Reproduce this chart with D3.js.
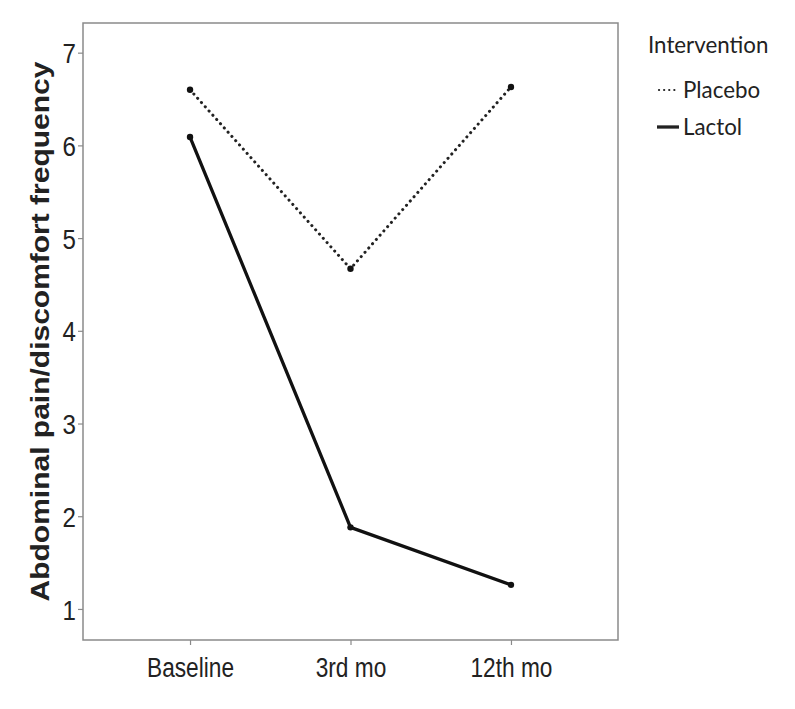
<!DOCTYPE html>
<html>
<head>
<meta charset="utf-8">
<script src="https://cdn.jsdelivr.net/npm/d3@7"></script>
<style>
  body { margin: 0; background: #fff; }
  svg { display: block; }
</style>
</head>
<body>
<div id="chart"></div>
<script>
// timepoints on the x axis
const timepoints = ["Baseline", "3rd mo", "12th mo"];
// mean frequency per group
const placebo = [6.60, 4.67, 6.63];
const lactol = [6.09, 1.88, 1.26];
const yTicks = [1, 2, 3, 4, 5, 6, 7];
const groups = ["Placebo", "Lactol"];

const width = 795, height = 709;
const margin = { left: 83, right: 177, top: 23, bottom: 69 };
const squeeze = 0.86;  // the reference text is a bit condensed

const svg = d3.select("#chart").append("svg")
    .attr("width", width)
    .attr("height", height);

const x = d3.scalePoint()
    .domain(timepoints)
    .range([margin.left, width - margin.right])
    .padding(0.667);

const y = d3.scaleLinear()
    .domain([0.665, 7.32])
    .range([height - margin.bottom, margin.top]);

// squeeze text horizontally
function condense(sel, k) {
    sel.each(function() {
        const len = this.getComputedTextLength();
        d3.select(this)
            .attr("textLength", len * k)
            .attr("lengthAdjust", "spacingAndGlyphs");
    });
}

// frame
svg.append("rect")
    .attr("x", margin.left)
    .attr("y", margin.top)
    .attr("width", width - margin.left - margin.right)
    .attr("height", height - margin.top - margin.bottom)
    .attr("fill", "none")
    .attr("stroke", "#8a8a8a")
    .attr("stroke-width", 1.5);

// y axis
const yAxis = svg.append("g")
    .attr("transform", `translate(${margin.left},0)`)
    .attr("font-family", "Liberation Sans, Arial, sans-serif")
    .call(d3.axisLeft(y).tickValues(yTicks).tickFormat(d3.format("d")).tickSize(5).tickPadding(2));
yAxis.attr("font-family", "Liberation Sans, Arial, sans-serif").attr("font-size", 28);
yAxis.select(".domain").remove();
yAxis.selectAll("line").attr("stroke", "#8a8a8a").attr("stroke-width", 1.2);
yAxis.selectAll("text").attr("fill", "#222").attr("dy", "0.36em").call(condense, squeeze);

// x axis
const xAxis = svg.append("g")
    .attr("transform", `translate(0,${height - margin.bottom})`)
    .call(d3.axisBottom(x).tickSize(5).tickPadding(13));
xAxis.attr("font-family", "Liberation Sans, Arial, sans-serif").attr("font-size", 27);
xAxis.select(".domain").remove();
xAxis.selectAll("line").attr("stroke", "#8a8a8a").attr("stroke-width", 1.2);
xAxis.selectAll("text").attr("fill", "#222").call(condense, 0.84);

// y axis title
svg.append("text")
    .attr("transform", `translate(49,${(margin.top + height - margin.bottom) / 2}) rotate(-90) scale(1,${squeeze})`)
    .attr("text-anchor", "middle")
    .attr("font-family", "Liberation Sans, Arial, sans-serif")
    .attr("font-weight", "bold")
    .attr("font-size", 30)
    .attr("fill", "#222")
    .text("Abdominal pain/discomfort frequency");

const line = d3.line()
    .x((d, i) => x(timepoints[i]))
    .y(d => y(d));

// placebo dotted line
svg.append("path")
    .datum(placebo)
    .attr("d", line)
    .attr("fill", "none")
    .attr("stroke", "#222")
    .attr("stroke-width", 3)
    .attr("stroke-linecap", "round")
    .attr("stroke-dasharray", "0.1,5.6");

// lactol solid line
svg.append("path")
    .datum(lactol)
    .attr("d", line)
    .attr("fill", "none")
    .attr("stroke", "#111")
    .attr("stroke-width", 3.3);

// markers
[placebo, lactol].forEach(series => {
    svg.append("g")
        .selectAll("circle")
        .data(series)
        .enter().append("circle")
        .attr("cx", (d, i) => x(timepoints[i]))
        .attr("cy", d => y(d))
        .attr("r", 3.2)
        .attr("fill", "#111");
});

// legend
const legend = svg.append("g")
    .attr("font-family", "Lato, 'Open Sans', sans-serif")
    .attr("font-size", 24)
    .attr("fill", "#222");

legend.append("text")
    .attr("x", 648)
    .attr("y", 53)
    .text("Intervention")
    .call(condense, 0.93);

groups.forEach((g, i) => {
    const ly = 90 + i * 37;
    legend.append("line")
        .attr("x1", g === "Placebo" ? 659 : 657)
        .attr("x2", 679)
        .attr("y1", ly)
        .attr("y2", ly)
        .attr("stroke", "#222")
        .attr("stroke-width", g === "Placebo" ? 2.2 : 3.3)
        .attr("stroke-linecap", g === "Placebo" ? "round" : "butt")
        .attr("stroke-dasharray", g === "Placebo" ? "0.1,5" : null);
    legend.append("text")
        .attr("x", 683)
        .attr("y", ly + 8)
        .text(g)
        .call(condense, 0.93);
});
</script>
</body>
</html>
